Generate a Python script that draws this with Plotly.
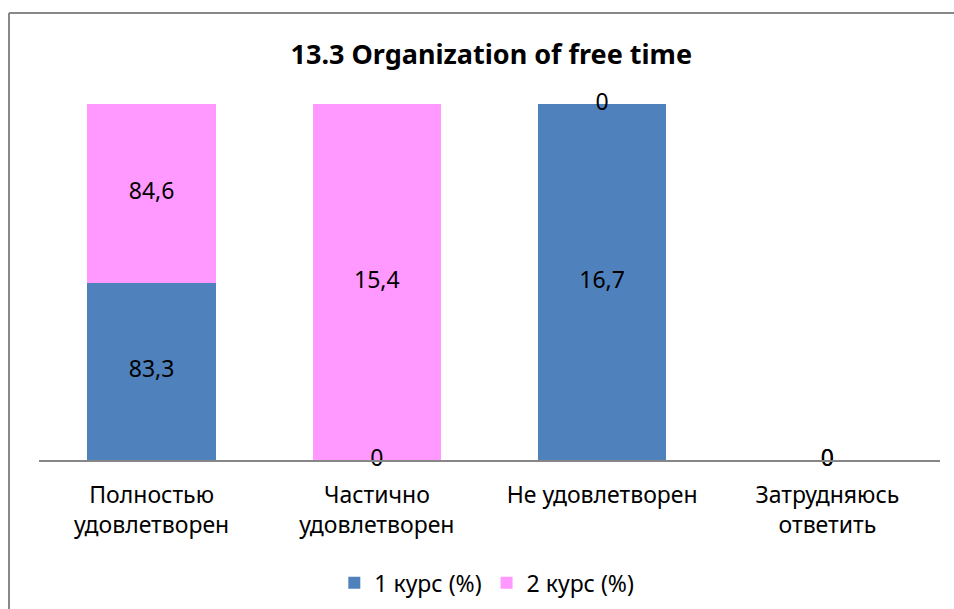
import plotly.graph_objects as go

categories = ["Полностью<br>удовлетворен", "Частично<br>удовлетворен", "Не удовлетворен", "Затрудняюсь<br>ответить"]
series_names = ["1 курс (%)", "2 курс (%)"]
course1 = [83.3, 0, 16.7, 0]
course2 = [84.6, 15.4, 0, 0]
colors = ["#4F81BD", "#FF99FF"]
title_text = "13.3 Organization of free time"

FONT = "Noto Sans"

# label positions (percent-normalized midpoints, as the stacked percent bars)
pos1, pos2 = [], []
for a, b in zip(course1, course2):
    tot = a + b
    if tot == 0:
        pos1.append(0); pos2.append(0)
    else:
        p1 = a / tot * 100
        p2 = b / tot * 100
        pos1.append(p1 / 2)
        pos2.append(p1 + p2 / 2)

def fmt(v):
    return ("%g" % v).replace(".", ",")

fig = go.Figure()
for name, vals, col in zip(series_names, [course1, course2], colors):
    fig.add_trace(go.Bar(x=categories, y=vals, name=name, marker=dict(color=col, line=dict(width=0)),
                         hoverinfo="skip"))
for vals, pos in zip([course1, course2], [pos1, pos2]):
    fig.add_trace(go.Scatter(x=categories, y=pos, mode="text", text=[fmt(v) for v in vals],
                             textposition="middle center", showlegend=False, cliponaxis=False,
                             textfont=dict(family=FONT, size=23, color="#000000"), hoverinfo="skip"))

bx0 = (9 - 39) / 901
by1 = (460 - 13) / 356
fig.update_layout(
    width=954, height=609,
    barmode="stack", barnorm="percent", bargap=0.43,
    paper_bgcolor="white", plot_bgcolor="white",
    margin=dict(l=39, r=14, t=104, b=149, autoexpand=False),
    font=dict(family=FONT, size=23, color="#000000"),
    title=dict(text="<b>" + title_text + "</b>", x=0.515, xanchor="center", y=0.91, yanchor="middle",
               font=dict(family=FONT, size=27, color="#000000")),
    showlegend=True,
    legend=dict(orientation="h", x=0.497, xanchor="center", y=-0.345, yanchor="middle",
                font=dict(family=FONT, size=23), itemwidth=30, traceorder="normal"),
    xaxis=dict(showline=True, linecolor="#868686", linewidth=1.5, showgrid=False, ticks="",
               automargin=False, ticklabelstandoff=14, tickfont=dict(family=FONT, size=23)),
    yaxis=dict(range=[0, 100], visible=False, showgrid=False, automargin=False),
    shapes=[
        dict(type="line", xref="paper", yref="paper", x0=bx0, x1=1.1, y0=by1, y1=by1,
             line=dict(color="#888888", width=2)),
        dict(type="line", xref="paper", yref="paper", x0=bx0, x1=bx0, y0=-0.6, y1=by1,
             line=dict(color="#888888", width=2)),
    ],
)

fig.write_html("out.html", config={"displayModeBar": False},
               post_script="document.body.style.margin='0';document.body.style.overflow='hidden';"
                           "document.documentElement.style.overflow='hidden';")
